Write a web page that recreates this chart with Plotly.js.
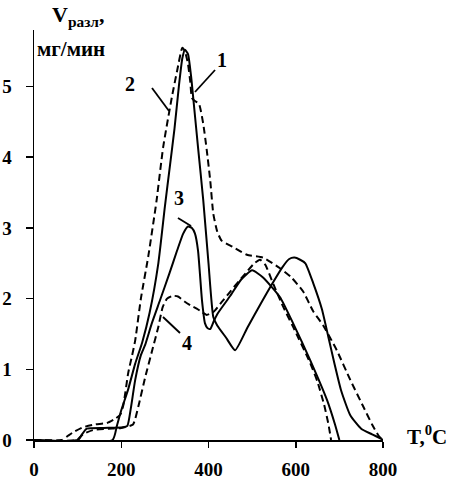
<!DOCTYPE html>
<html>
<head>
<meta charset="utf-8">
<script src="https://cdn.plot.ly/plotly-3.0.1.min.js"></script>
<style>html,body{margin:0;padding:0;background:#fff;}#chart{width:449px;height:486px;}</style>
</head>
<body>
<div id="chart"></div>
<script>
// Curve 1 (solid, main peak)
const t1 = [0, 180, 190, 200, 216, 232, 248, 265, 285, 300, 312, 322, 332, 340, 346, 353, 360, 365, 376, 388, 400, 411, 420, 440, 461, 490, 520, 545, 570, 585, 597, 610, 622, 640, 660, 675, 688, 704, 725, 750, 775, 795, 800];
const v1 = [0, 0, 0.2, 0.42, 0.72, 1.08, 1.38, 1.8, 2.5, 3.3, 3.9, 4.4, 5.0, 5.4, 5.52, 5.46, 5.15, 4.84, 4.14, 3.39, 2.5, 1.74, 1.62, 1.45, 1.27, 1.6, 1.93, 2.2, 2.45, 2.56, 2.58, 2.55, 2.5, 2.22, 1.85, 1.45, 1.1, 0.7, 0.35, 0.16, 0.08, 0.02, 0];
// Curve 2 (dashed, main peak)
const t2 = [0, 64, 78, 90, 112, 140, 167, 186, 198, 205, 216, 225, 232, 245, 262, 281, 296, 316, 328, 340, 346, 353, 358, 362, 368, 378, 388, 396, 404, 411, 420, 430, 456, 488, 525, 564, 590, 617, 640, 663, 694, 725, 755, 775, 790, 800];
const v2 = [0, 0, 0.06, 0.11, 0.18, 0.22, 0.24, 0.3, 0.36, 0.5, 0.95, 1.2, 1.41, 2.0, 2.6, 3.39, 4.14, 4.85, 5.22, 5.55, 5.5, 5.32, 5.08, 4.84, 4.8, 4.76, 4.47, 4.1, 3.67, 3.2, 2.95, 2.82, 2.73, 2.62, 2.58, 2.43, 2.3, 2.1, 1.82, 1.62, 1.27, 0.85, 0.47, 0.22, 0.06, 0];
// Curve 3 (solid, peak ~3)
const t3 = [0, 101, 110, 121, 160, 204, 214, 222, 232, 245, 255, 270, 289, 310, 328, 342, 353, 362, 369, 376, 385, 392, 398, 404, 412, 420, 450, 475, 500, 525, 564, 594, 633, 672, 690, 700];
const v3 = [0, 0, 0.08, 0.16, 0.17, 0.18, 0.2, 0.45, 0.85, 1.2, 1.35, 1.65, 1.98, 2.35, 2.68, 2.92, 3.02, 3.0, 2.92, 2.68, 1.98, 1.65, 1.58, 1.57, 1.68, 1.78, 2.04, 2.27, 2.4, 2.3, 2.02, 1.65, 1.13, 0.56, 0.22, 0];
// Curve 4 (dashed, peak ~2)
const t4 = [0, 98, 112, 135, 170, 200, 227, 239, 255, 271, 285, 295, 305, 318, 330, 345, 360, 373, 385, 396, 411, 430, 450, 470, 488, 505, 518, 530, 549, 570, 594, 633, 650, 665, 675, 681];
const v4 = [0, 0, 0.08, 0.14, 0.16, 0.17, 0.22, 0.47, 0.89, 1.27, 1.6, 1.88, 2.0, 2.04, 2.03, 1.96, 1.9, 1.86, 1.81, 1.77, 1.81, 1.95, 2.1, 2.25, 2.38, 2.5, 2.55, 2.48, 2.2, 1.9, 1.6, 1.09, 0.82, 0.5, 0.22, 0];

const xTicks = [0, 200, 400, 600, 800];
const yTicks = [0, 1, 2, 3, 4, 5];
const curveLabels = ['1', '2', '3', '4'];

const fontFam = '"Liberation Serif", "Times New Roman", serif';
const lineW = 2;
function tr(x, y, dashed) {
  return {x: x, y: y, type: 'scatter', mode: 'lines',
    line: {color: '#000', width: lineW, dash: dashed ? '7px,4px' : 'solid', shape: 'spline', smoothing: 0.5},
    hoverinfo: 'skip', showlegend: false};
}
const data = [tr(t1, v1, false), tr(t2, v2, true), tr(t3, v3, false), tr(t4, v4, true)];

const txt = {family: fontFam, size: 20, color: '#000', weight: 'bold'};
function lab(text, x, y) {
  return {text: text, x: x, y: y, xref: 'x', yref: 'y', showarrow: false, font: txt, xanchor: 'center', yanchor: 'middle'};
}
function seg(x0, y0, x1, y1) {
  return {type: 'line', xref: 'x', yref: 'y', x0: x0, y0: y0, x1: x1, y1: y1, line: {color: '#000', width: 1.8}};
}

const layout = {
  width: 449, height: 486,
  margin: {l: 34, r: 66, t: 30, b: 46},
  paper_bgcolor: '#fff', plot_bgcolor: '#fff',
  showlegend: false,
  font: {family: fontFam, color: '#000'},
  xaxis: {range: [0, 800], tickvals: xTicks, ticktext: xTicks.map(String), showgrid: false, zeroline: false,
    showline: true, linecolor: '#000', linewidth: 1.5, ticks: 'outside', ticklen: 6, tickwidth: 1.5, tickcolor: '#000',
    tickfont: {family: fontFam, size: 19, color: '#000', weight: 'bold'}, ticklabelstandoff: 6, fixedrange: true},
  yaxis: {range: [0, 5.8], tickvals: yTicks, ticktext: yTicks.map(String), showgrid: false, zeroline: false,
    showline: true, linecolor: '#000', linewidth: 1.5, ticks: 'outside', ticklen: 7, tickwidth: 1.5, tickcolor: '#000',
    tickfont: {family: fontFam, size: 19, color: '#000', weight: 'bold'}, ticklabelstandoff: 10, fixedrange: true},
  annotations: [
    lab(curveLabels[0], 431, 5.375),
    lab(curveLabels[1], 220, 5.036),
    lab(curveLabels[2], 332, 3.42),
    lab(curveLabels[3], 351, 1.372),
    {text: 'V<sub>разл</sub>,', xref: 'paper', yref: 'paper', x: 0.046, y: 1.035, xanchor: 'left', yanchor: 'middle', showarrow: false,
      font: {family: fontFam, size: 22, color: '#000', weight: 'bold'}},
    {text: 'мг/мин', xref: 'paper', yref: 'paper', x: 0.003, y: 0.954, xanchor: 'left', yanchor: 'middle', showarrow: false,
      font: {family: fontFam, size: 21, color: '#000', weight: 'bold'}},
    {text: 'T,<sup>0</sup>C', xref: 'paper', yref: 'paper', x: 1.063, y: 0.01, xanchor: 'left', yanchor: 'middle', showarrow: false,
      font: {family: fontFam, size: 21, color: '#000', weight: 'bold'}}
  ],
  shapes: [
    seg(415, 5.234, 369, 4.923),
    seg(270.5, 4.98, 309.5, 4.654),
    seg(330, 3.14, 360, 3.027),
    seg(295.7, 1.74, 334.7, 1.514),
    {type: 'line', xref: 'paper', yref: 'paper', x0: -0.013, y0: 0, x1: 0, y1: 0, line: {color: '#000', width: 1.5}},
    {type: 'line', xref: 'paper', yref: 'paper', x0: 0, y0: -0.015, x1: 0, y1: 0, line: {color: '#000', width: 1.5}}
  ]
};
Plotly.newPlot('chart', data, layout, {displayModeBar: false, staticPlot: true});
</script>
</body>
</html>
